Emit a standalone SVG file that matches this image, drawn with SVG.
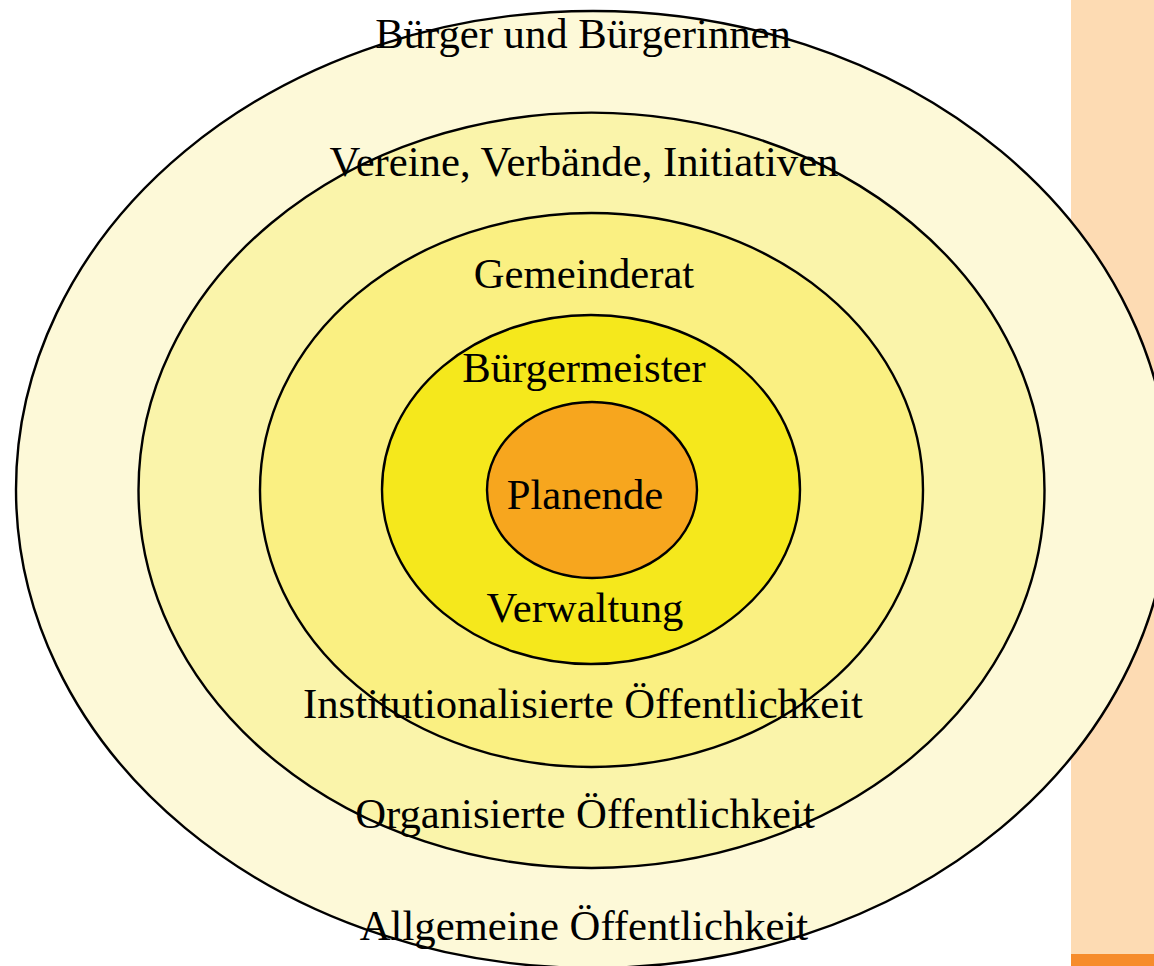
<svg xmlns="http://www.w3.org/2000/svg" width="1154" height="966" viewBox="0 0 1154 966">
<style>
.ring{stroke:#000;stroke-width:2.4}
.lbl{font-family:"Liberation Serif","Times New Roman",serif;font-size:42.7px;fill:#000;text-anchor:middle}
</style>
<rect width="1154" height="966" fill="#ffffff"/>
<rect x="1071" y="0" width="83" height="954" fill="#FDDBB3"/>
<rect x="1071" y="954" width="83" height="12" fill="#F68C2C"/>
<g id="allgemeine">
<ellipse class="ring" cx="593" cy="489.5" rx="577" ry="478.5" fill="#FDF9D8"/>
</g>
<g id="organisierte">
<ellipse class="ring" cx="591.5" cy="490.3" rx="453" ry="377.7" fill="#FAF4AA"/>
</g>
<g id="institutionalisierte">
<ellipse class="ring" cx="591.5" cy="490" rx="331.5" ry="277" fill="#FAF082"/>
</g>
<g id="verwaltung">
<ellipse class="ring" cx="591" cy="489.5" rx="209" ry="174.5" fill="#F5E81C"/>
</g>
<g id="planende">
<ellipse class="ring" cx="592" cy="490" rx="105" ry="88" fill="#F7A61E"/>
</g>
<g id="labels">
<text class="lbl" x="583" y="48">Bürger und Bürgerinnen</text>
<text class="lbl" x="584" y="176">Vereine, Verbände, Initiativen</text>
<text class="lbl" x="584" y="288">Gemeinderat</text>
<text class="lbl" x="584" y="382">Bürgermeister</text>
<text class="lbl" x="585" y="509">Planende</text>
<text class="lbl" x="585" y="622">Verwaltung</text>
<text class="lbl" x="583" y="718">Institutionalisierte Öffentlichkeit</text>
<text class="lbl" x="585" y="828">Organisierte Öffentlichkeit</text>
<text class="lbl" x="584" y="940">Allgemeine Öffentlichkeit</text>
</g>
<g id="connectors"/>
</svg>
